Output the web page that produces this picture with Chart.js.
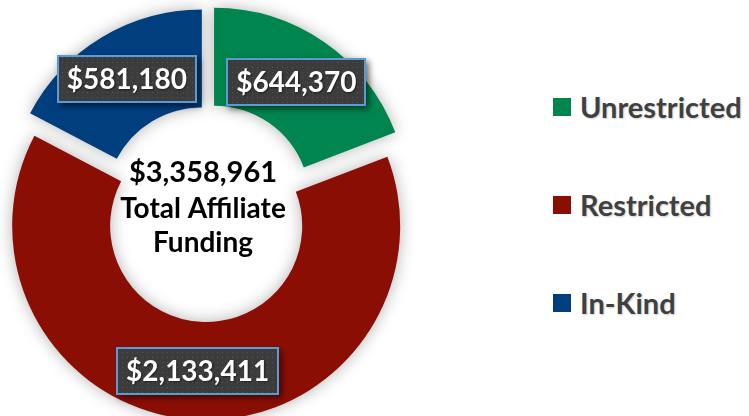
<!DOCTYPE html>
<html lang="en">
<head>
    <meta charset="UTF-8">
    <title>Total Affiliate Funding</title>
    <script src="https://cdn.jsdelivr.net/npm/chart.js"></script>
    <style>
        body {
            margin: 0;
            width: 749px;
            height: 416px;
            overflow: hidden;
            background-color: #fff;
            font-family: Lato, "Open Sans", sans-serif;
        }
        .chart-wrap {
            position: absolute;
            left: 0;
            top: 0;
            width: 414px;
            height: 416px;
        }
        .legend-item {
            position: absolute;
            left: 553px;
            height: 34px;
            line-height: 34px;
            display: flex;
            align-items: center;
            white-space: nowrap;
            font-weight: bold;
            font-size: 29px;
            color: #404040;
            text-shadow: 1px 1px 2px rgba(0, 0, 0, 0.2);
        }
        .legend-item .swatch {
            width: 18px;
            height: 18px;
            margin-right: 9px;
        }
    </style>
</head>
<body>
    <div class="chart-wrap">
        <canvas id="fundingChart"></canvas>
    </div>
    <div id="legend"></div>

    <script>
        // Data
        const labels = ['Unrestricted', 'Restricted', 'In-Kind'];
        const values = [644370, 2133411, 581180];
        const centerLines = ['Total Affiliate', 'Funding'];

        const colors = ['#00854F', '#8B0E04', '#003E7E'];
        const explode = [12.5, 14, 10];      // px each slice is pulled out
        const legendY = [107, 205, 303];     // vertical centre of each legend row

        const money = v => '$' + v.toLocaleString('en-US');
        const total = values.reduce((a, b) => a + b, 0);

        // Legend (HTML, right side)
        const legend = document.getElementById('legend');
        labels.forEach((name, i) => {
            const item = document.createElement('div');
            item.className = 'legend-item';
            item.style.top = (legendY[i] - 17) + 'px';
            item.innerHTML = '<span class="swatch" style="background:' + colors[i] + '"></span>' + name;
            legend.appendChild(item);
        });

        // dotted fill for the value boxes
        function dotPattern(ctx) {
            const c = document.createElement('canvas');
            c.width = 5;
            c.height = 5;
            const p = c.getContext('2d');
            p.fillStyle = '#3c3c3c';
            p.fillRect(0, 0, 5, 5);
            p.fillStyle = '#555555';
            p.fillRect(2, 2, 1, 1);
            return ctx.createPattern(c, 'repeat');
        }

        const explodePlugin = {
            id: 'explode',
            afterDatasetsUpdate(chart) {
                const area = chart.chartArea;
                const cx = (area.left + area.right) / 2;
                const cy = (area.top + area.bottom) / 2;
                chart.getDatasetMeta(0).data.forEach((arc, i) => {
                    const mid = (arc.startAngle + arc.endAngle) / 2;
                    arc.x = cx + Math.cos(mid) * explode[i];
                    arc.y = cy + Math.sin(mid) * explode[i];
                });
            }
        };

        const decorPlugin = {
            id: 'decor',
            beforeDatasetsDraw(chart) {
                const ctx = chart.ctx;
                ctx.save();
                ctx.shadowColor = 'rgba(0, 0, 0, 0.3)';
                ctx.shadowBlur = 16;
            },
            afterDatasetsDraw(chart) {
                const ctx = chart.ctx;
                ctx.restore();

                // value boxes
                const pattern = dotPattern(ctx);
                chart.getDatasetMeta(0).data.forEach((arc, i) => {
                    const mid = (arc.startAngle + arc.endAngle) / 2;
                    const r = (arc.innerRadius + arc.outerRadius) / 2;
                    const x = arc.x + Math.cos(mid) * r;
                    const y = arc.y + Math.sin(mid) * r;
                    const text = money(values[i]);

                    ctx.save();
                    ctx.font = 'bold 28px Lato';
                    const w = Math.round(ctx.measureText(text).width + 20);
                    const h = 48;
                    const left = Math.round(x - w / 2);
                    const top = Math.round(y - h / 2);

                    ctx.shadowColor = 'rgba(0, 0, 0, 0.55)';
                    ctx.shadowBlur = 6;
                    ctx.shadowOffsetX = 3;
                    ctx.shadowOffsetY = 3;
                    ctx.fillStyle = pattern;
                    ctx.fillRect(left, top, w, h);
                    ctx.shadowColor = 'transparent';

                    ctx.strokeStyle = '#5B9BD5';
                    ctx.lineWidth = 2;
                    ctx.strokeRect(left + 1, top + 1, w - 2, h - 2);

                    ctx.fillStyle = '#fff';
                    ctx.textAlign = 'center';
                    ctx.textBaseline = 'middle';
                    ctx.shadowColor = 'rgba(0, 0, 0, 0.5)';
                    ctx.shadowBlur = 2;
                    ctx.shadowOffsetX = 1;
                    ctx.shadowOffsetY = 1;
                    ctx.fillText(text, x, y + 1);
                    ctx.restore();
                });

                // centre text
                const area = chart.chartArea;
                const cx = (area.left + area.right) / 2 - 4;
                const cy = (area.top + area.bottom) / 2;
                ctx.save();
                ctx.fillStyle = '#000';
                ctx.textAlign = 'center';
                ctx.textBaseline = 'alphabetic';
                ctx.font = 'bold 29px Lato';
                ctx.fillText(money(total), cx, cy - 30);
                ctx.font = 'bold 28px Lato';
                ctx.fillText(centerLines[0], cx, cy + 6);
                ctx.fillText(centerLines[1], cx, cy + 40);
                ctx.restore();
            }
        };

        new Chart(document.getElementById('fundingChart'), {
            type: 'doughnut',
            data: {
                labels: labels,
                datasets: [{
                    data: values,
                    backgroundColor: colors,
                    borderWidth: 0,
                    clip: false
                }]
            },
            options: {
                responsive: true,
                maintainAspectRatio: false,
                animation: false,
                radius: 194,
                cutout: '49.5%',
                layout: { padding: { top: 8 } },
                plugins: {
                    legend: { display: false },
                    tooltip: { enabled: false }
                }
            },
            plugins: [explodePlugin, decorPlugin]
        });
    </script>
</body>
</html>
